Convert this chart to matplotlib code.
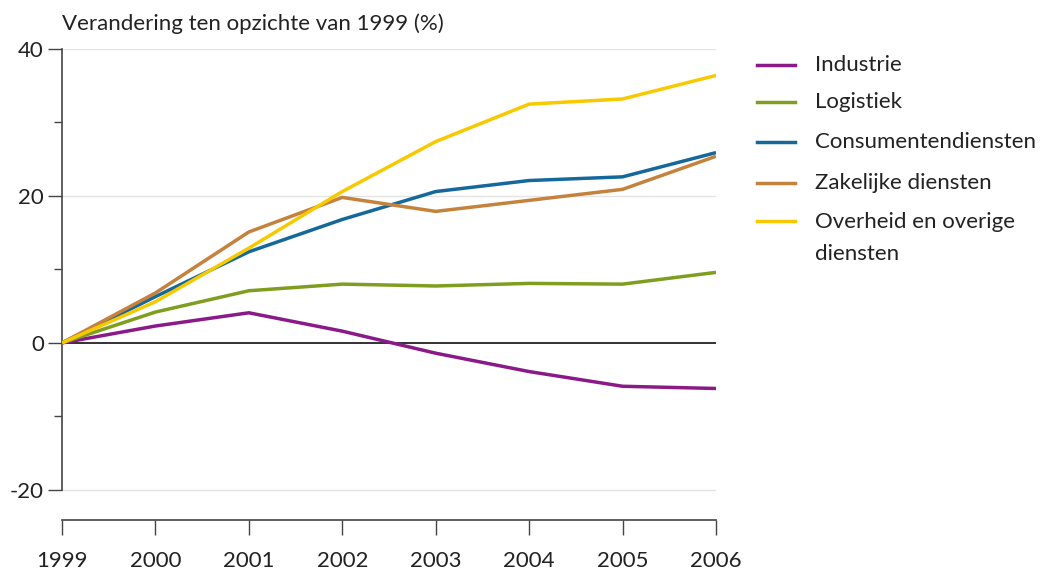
import matplotlib
matplotlib.use("Agg")
import matplotlib.pyplot as plt
from matplotlib.lines import Line2D

plt.rcParams['font.family'] = ['Lato', 'DejaVu Sans']

years = [1999, 2000, 2001, 2002, 2003, 2004, 2005, 2006]
series_names = ["Industrie", "Logistiek", "Consumentendiensten",
                "Zakelijke diensten", "Overheid en overige\ndiensten"]
industrie = [0, 2.3, 4.1, 1.6, -1.4, -3.9, -5.9, -6.2]
logistiek = [0, 4.2, 7.1, 8.0, 7.75, 8.1, 8.0, 9.6]
consument = [0, 6.3, 12.4, 16.8, 20.6, 22.1, 22.6, 25.9]
zakelijk = [0, 6.8, 15.1, 19.8, 17.9, 19.4, 20.9, 25.4]
overheid = [0, 5.6, 12.9, 20.6, 27.4, 32.5, 33.2, 36.4]
colors = ["#8a1a88", "#7f9d1e", "#15689a", "#c5823c", "#f7c900"]
yticks_major = [-20, 0, 20, 40]
yticks_minor = [-10, 10, 30]
title = "Verandering ten opzichte van 1999 (%)"

W, H = 1051, 569
fig = plt.figure(figsize=(W / 100, H / 100), dpi=100)
ax = fig.add_axes([62 / W, 1 - 520 / H, (716 - 62) / W, (520 - 49) / H])

ax.set_xlim(1999, 2006)
ax.set_ylim(-24.1, 40)

for v in [40, 20, -20]:
    ax.axhline(v, color="#e4e4e4", lw=1.0, zorder=0)
ax.axhline(0, color="#222222", lw=1.3, zorder=1)

data = [industrie, logistiek, consument, zakelijk, overheid]
for vals, c in zip(data, colors):
    ax.plot(years, vals, color=c, lw=2.5, solid_capstyle="butt", zorder=3)

for s in ["top", "right"]:
    ax.spines[s].set_visible(False)
ax.spines["left"].set_bounds(-20, 40)
ax.spines["left"].set_color("#444444")
ax.spines["bottom"].set_color("#444444")
ax.spines["left"].set_linewidth(1.2)
ax.spines["bottom"].set_linewidth(1.2)

ax.set_yticks(yticks_major)
ax.set_yticks(yticks_minor, minor=True)
ax.set_yticklabels([str(v) for v in yticks_major])
ax.set_xticks(years)
ax.set_xticklabels([str(y) for y in years])
ax.tick_params(axis="y", which="major", length=10, width=1.0, color="#444444",
               labelsize=16, pad=3, labelcolor="#222222")
ax.tick_params(axis="y", which="minor", length=6, width=1.0, color="#444444")
ax.tick_params(axis="x", which="major", length=11, width=1.0, color="#444444",
               labelsize=16, pad=11, labelcolor="#222222")

fig.text(62 / W, 1 - 24 / H, title, fontsize=16, va="center", ha="left",
         color="#222222")

# legend
leg_y = [65, 102, 142, 183, 221]
for name, c, yy in zip(series_names, colors, leg_y):
    fig.add_artist(Line2D([757 / W, 795 / W], [1 - yy / H, 1 - yy / H],
                          color=c, lw=2.5, transform=fig.transFigure))
    if "\n" in name:
        fig.text(815 / W, 1 - (yy + 17.5) / H, name, fontsize=16, va="center",
                 ha="left", color="#222222", linespacing=1.75)
    else:
        fig.text(815 / W, 1 - yy / H, name, fontsize=16, va="center",
                 ha="left", color="#222222")

fig.savefig("out.png", dpi=100, facecolor="white")
